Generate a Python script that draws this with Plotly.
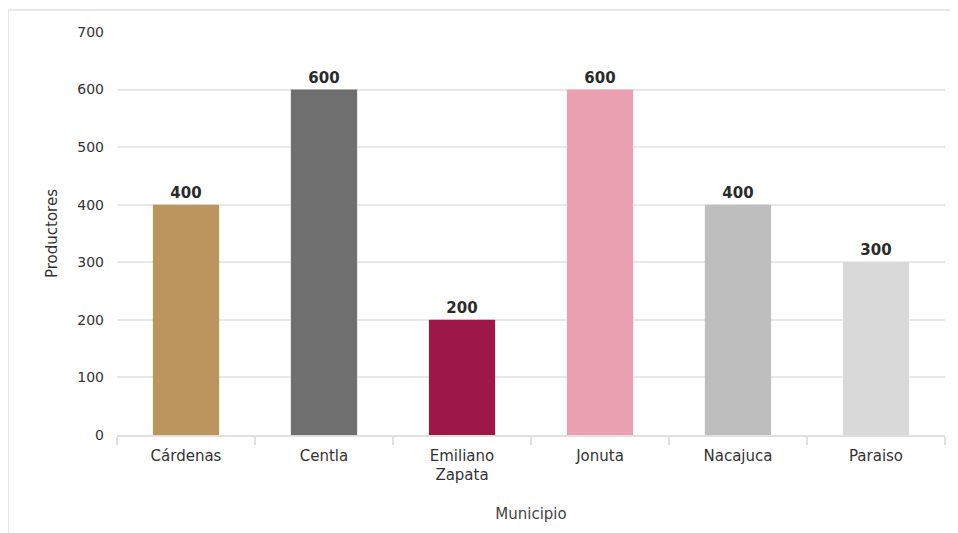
import plotly.graph_objects as go

municipios = ["Cárdenas", "Centla", "Emiliano<br>Zapata", "Jonuta", "Nacajuca", "Paraiso"]
productores = [400, 600, 200, 600, 400, 300]
colores = ["#BC955C", "#6F6F6F", "#9D1846", "#EBA0B2", "#BEBEBE", "#D9D9D9"]
y_ticks = [0, 100, 200, 300, 400, 500, 600, 700]

FONT = "DejaVu Sans"

fig = go.Figure(go.Bar(
    x=municipios, y=productores,
    marker=dict(color=colores, line=dict(width=0)),
    text=[str(v) for v in productores],
    textposition="outside",
    textfont=dict(family=FONT, size=15, color="#2A2A2A", weight="bold"),
    cliponaxis=False,
))

fig.update_layout(
    width=958, height=533,
    margin=dict(l=109, r=21, t=24, b=106),
    paper_bgcolor="white", plot_bgcolor="white",
    bargap=0.52,
    showlegend=False,
    font=dict(family=FONT, size=15, color="#333333"),
    xaxis=dict(
        title=dict(text="Municipio", font=dict(size=15, color="#444444"), standoff=25),
        showgrid=False,
        showline=True, linecolor="#E0E0E0", linewidth=1.5,
        ticks="outside", tickson="boundaries", ticklen=8, tickcolor="#E0E0E0", tickwidth=1.5,
        tickfont=dict(size=15, color="#333333"),
        ticklabelstandoff=6,
    ),
    yaxis=dict(
        title=dict(text="Productores", font=dict(size=15, color="#333333"), standoff=16),
        range=[0, 700], tickvals=y_ticks,
        showgrid=True, gridcolor="#E8E8E8", gridwidth=1.5,
        zeroline=False, showline=False,
        tickfont=dict(size=14, color="#333333"),
        ticklabelstandoff=12,
    ),
    shapes=[
        dict(type="line", xref="paper", yref="paper",
             x0=-110/828, x1=1.03, y0=1 + 22/403, y1=1 + 22/403,
             line=dict(color="#E8E8E8", width=2)),
        dict(type="line", xref="paper", yref="paper",
             x0=-109/828, x1=-109/828, y0=-0.3, y1=1 + 22/403,
             line=dict(color="#E4E4E4", width=2)),
    ],
)

fig.write_html("out.html")
